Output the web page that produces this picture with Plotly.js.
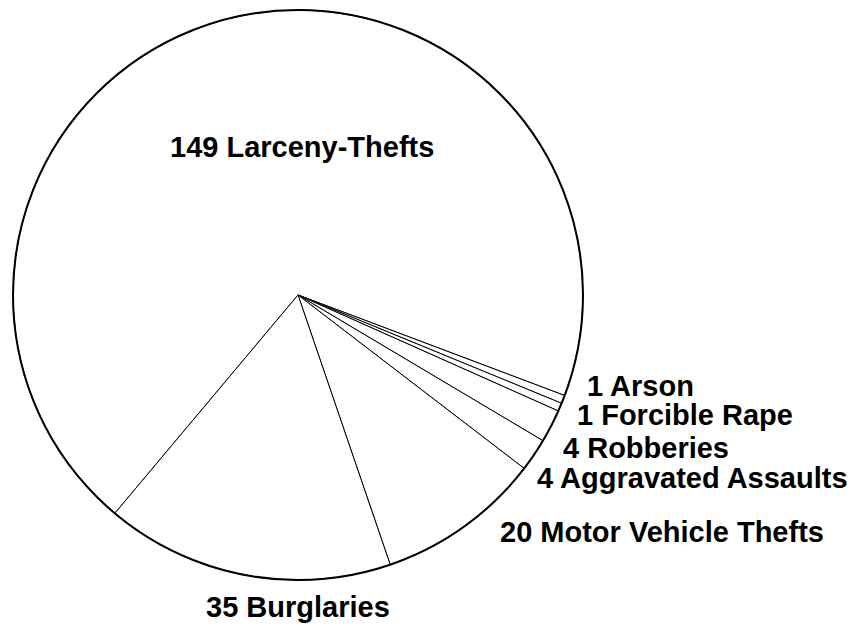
<!DOCTYPE html>
<html>
<head>
<meta charset="utf-8">
<script src="https://cdn.plot.ly/plotly-3.0.1.min.js"></script>
<style>html,body{margin:0;padding:0;background:#fff;}#chart{width:854px;height:629px;}</style>
</head>
<body>
<div id="chart"></div>
<script>
const categories = ["Larceny-Thefts", "Arson", "Forcible Rape", "Robberies", "Aggravated Assaults", "Motor Vehicle Thefts", "Burglaries"];
const counts = [149, 1, 1, 4, 4, 20, 35];

const labelsText = categories.map((c, i) => counts[i] + " " + c);
const total = counts.reduce((a, b) => a + b, 0);

// label placement (pixels in the 854x629 figure) and anchor
const labelPx = [[302, 147], [585, 386], [575, 415], [561, 448], [535, 478], [498, 532], [298, 607]];
const labelAnchor = ["center", "left", "left", "left", "left", "left", "center"];

const W = 854, H = 629;
const domain = {x: [0.0152, 0.6827], y: [0.0779, 0.9841]};
const font = {family: "Liberation Sans, Arial, sans-serif", size: 29, color: "#000", weight: "bold"};

const data = [
  {
    type: "pie",
    labels: categories,
    values: counts,
    textinfo: "none",
    sort: false,
    direction: "clockwise",
    rotation: -140,
    domain: domain,
    marker: {colors: categories.map(() => "#ffffff"), line: {color: "#000", width: 1}},
    showlegend: false,
    hoverinfo: "none"
  },
  {
    type: "pie",
    labels: ["all"],
    values: [total],
    textinfo: "none",
    sort: false,
    domain: domain,
    marker: {colors: ["rgba(0,0,0,0)"], line: {color: "#000", width: 2}},
    showlegend: false,
    hoverinfo: "none"
  }
];

const annotations = labelsText.map((t, i) => ({
  text: t,
  xref: "paper", yref: "paper",
  x: labelPx[i][0] / W,
  y: 1 - labelPx[i][1] / H,
  xanchor: labelAnchor[i],
  yanchor: "middle",
  showarrow: false,
  font: font
}));

const layout = {
  width: W, height: H,
  margin: {l: 0, r: 0, t: 0, b: 0},
  paper_bgcolor: "#fff",
  plot_bgcolor: "#fff",
  showlegend: false,
  annotations: annotations
};

Plotly.newPlot("chart", data, layout, {displayModeBar: false, staticPlot: true});
</script>
</body>
</html>
